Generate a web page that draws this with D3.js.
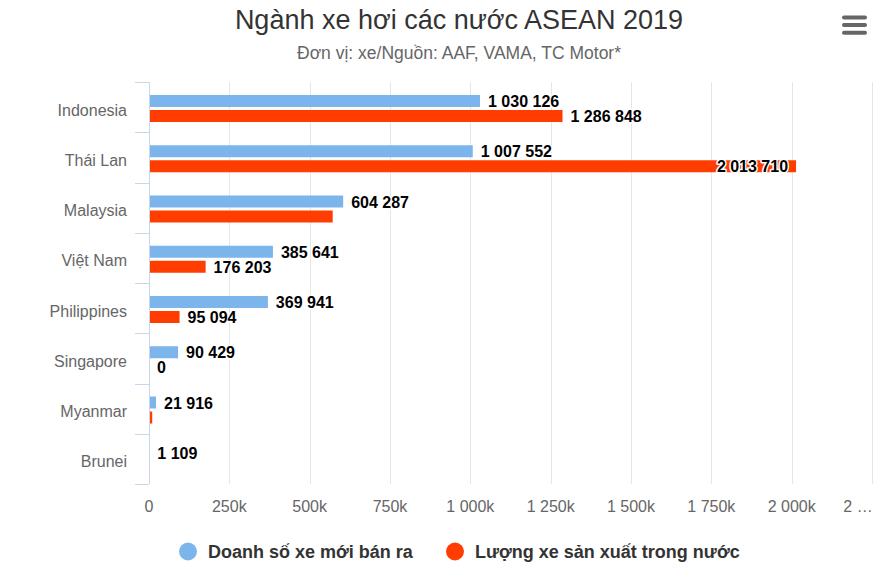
<!DOCTYPE html>
<html>
<head>
<meta charset="utf-8">
<script src="https://cdn.jsdelivr.net/npm/d3@7"></script>
<style>
  body { margin: 0; background: #fff; }
  svg { font-family: "Liberation Sans", Arial, sans-serif; }
</style>
</head>
<body>
<div id="chart"></div>
<script>
// data
var countries = ["Indonesia", "Thái Lan", "Malaysia", "Việt Nam", "Philippines", "Singapore", "Myanmar", "Brunei"];
var seriesNames = ["Doanh số xe mới bán ra", "Lượng xe sản xuất trong nước"];
var seriesColors = ["#7cb5ec", "#ff3d00"];
var sales = [1030126, 1007552, 604287, 385641, 369941, 90429, 21916, 1109];
var production = [1286848, 2013710, 571632, 176203, 95094, 0, 10000, null];
// which labels are shown (some were hidden in the original)
var salesLabelShown = [true, true, true, true, true, true, true, true];
var prodLabelShown = [true, true, false, true, true, true, false, false];
var xTicks = [0, 250000, 500000, 750000, 1000000, 1250000, 1500000, 1750000, 2000000, 2250000];
var xTickLabels = ["0", "250k", "500k", "750k", "1 000k", "1 250k", "1 500k", "1 750k", "2 000k", "2 …"];

var W = 896, H = 566;
var plotLeft = 149, plotRight = 872, plotTop = 82, plotBottom = 484;

var svg = d3.select("#chart").append("svg")
  .attr("width", W).attr("height", H);

svg.append("rect").attr("width", W).attr("height", H).attr("fill", "#fff");

// title + subtitle
svg.append("text")
  .attr("x", 459).attr("y", 29)
  .attr("text-anchor", "middle")
  .style("font-size", "27px").style("fill", "#333")
  .text("Ngành xe hơi các nước ASEAN 2019");
svg.append("text")
  .attr("x", 459).attr("y", 59)
  .attr("text-anchor", "middle")
  .style("font-size", "17.5px").style("fill", "#666")
  .text("Đơn vị: xe/Nguồn: AAF, VAMA, TC Motor*");

// menu button
for (var i = 0; i < 3; i++) {
  svg.append("line")
    .attr("x1", 844).attr("x2", 865)
    .attr("y1", 17.5 + i * 7.6).attr("y2", 17.5 + i * 7.6)
    .attr("stroke", "#666").attr("stroke-width", 4).attr("stroke-linecap", "round");
}

var x = d3.scaleLinear().domain([0, 2250000]).range([plotLeft, plotRight]);
var y = d3.scaleBand().domain(countries).range([plotTop, plotBottom]);
var bw = y.bandwidth();
var ySub = d3.scaleBand().domain([0, 1]).range([13, 40]).paddingInner(0.2);

// grid
svg.append("g").selectAll("line")
  .data(xTicks.slice(1))
  .join("line")
  .attr("x1", function(d){ return Math.round(x(d)) + 0.5; })
  .attr("x2", function(d){ return Math.round(x(d)) + 0.5; })
  .attr("y1", plotTop).attr("y2", plotBottom)
  .attr("stroke", "#e6e6e6").attr("stroke-width", 1);

// x tick labels
svg.append("g").selectAll("text")
  .data(xTicks)
  .join("text")
  .attr("x", function(d, i){ return i == xTicks.length - 1 ? x(d) - 14 : x(d); })
  .attr("y", 512)
  .attr("text-anchor", "middle")
  .style("font-size", "16px").style("fill", "#666")
  .text(function(d, i){ return xTickLabels[i]; });

// y axis line + ticks
svg.append("line")
  .attr("x1", plotLeft + 0.5).attr("x2", plotLeft + 0.5)
  .attr("y1", plotTop).attr("y2", plotBottom)
  .attr("stroke", "#ccd6eb").attr("stroke-width", 1);
var bounds = countries.map(function(c){ return y(c); }).concat([plotBottom]);
svg.append("g").selectAll("line")
  .data(bounds)
  .join("line")
  .attr("x1", plotLeft - 14).attr("x2", plotLeft)
  .attr("y1", function(d){ return Math.round(d) + 0.5; })
  .attr("y2", function(d){ return Math.round(d) + 0.5; })
  .attr("stroke", "#ccd6eb").attr("stroke-width", 1);

svg.append("g").selectAll("text")
  .data(countries)
  .join("text")
  .attr("x", 127)
  .attr("y", function(d){ return y(d) + bw / 2 + 8.5; })
  .attr("text-anchor", "end")
  .style("font-size", "16px").style("fill", "#666")
  .text(function(d){ return d; });

// bars
var allSeries = [sales, production];
var allShown = [salesLabelShown, prodLabelShown];
var fmt = function(v){ return d3.format(",")(v).replace(/,/g, " "); };

allSeries.forEach(function(vals, s) {
  var g = svg.append("g");
  g.selectAll("rect")
    .data(countries)
    .join("rect")
    .attr("x", plotLeft + 1)
    .attr("y", function(c){ return y(c) + ySub(s); })
    .attr("width", function(c, i){ return vals[i] ? Math.max(0, x(vals[i]) - plotLeft - 1) : 0; })
    .attr("height", ySub.bandwidth())
    .attr("fill", seriesColors[s]);
});

// data labels (drawn on top)
allSeries.forEach(function(vals, s) {
  var lg = svg.append("g");
  countries.forEach(function(c, i) {
    if (vals[i] == null || !allShown[s][i]) return;
    var end = x(vals[i]);
    var inside = end + 8 + 74 > plotRight;
    lg.append("text")
      .attr("x", inside ? end - 8 : end + 8)
      .attr("y", y(c) + ySub(s) + ySub.bandwidth() / 2 + 6)
      .attr("text-anchor", inside ? "end" : "start")
      .style("font-size", "16px").style("font-weight", "bold")
      .style("fill", "#000")
      .style("stroke", "#fff").style("stroke-width", 3).style("stroke-linejoin", "round")
      .style("paint-order", "stroke")
      .text(fmt(vals[i]));
  });
});

// legend
var legendX = [188, 455];
seriesNames.forEach(function(n, s) {
  svg.append("circle")
    .attr("cx", legendX[s]).attr("cy", 551.5).attr("r", 9)
    .attr("fill", seriesColors[s]);
  svg.append("text")
    .attr("x", legendX[s] + 20).attr("y", 558)
    .style("font-size", "18px").style("font-weight", "bold").style("fill", "#333")
    .text(n);
});
</script>
</body>
</html>
